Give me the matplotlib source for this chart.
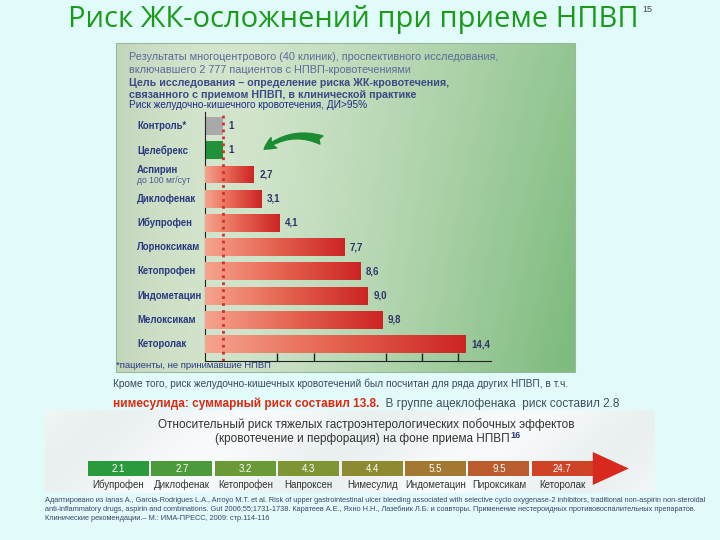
import numpy as np
import matplotlib
matplotlib.use('Agg')
import matplotlib.pyplot as plt
from matplotlib.colors import LinearSegmentedColormap, to_rgb
from matplotlib.patches import Rectangle, Polygon
import matplotlib.transforms as mtrans

plt.rcParams['font.family'] = ['Liberation Sans', 'DejaVu Sans']

# ---------------- data ----------------
drugs = ['Контроль*', 'Целебрекс', 'Аспирин', 'Диклофенак', 'Ибупрофен',
         'Лорноксикам', 'Кетопрофен', 'Индометацин', 'Мелоксикам', 'Кеторолак']
risk = [1, 1, 2.7, 3.1, 4.1, 7.7, 8.6, 9.0, 9.8, 14.4]
risk_labels = ['1', '1', '2,7', '3,1', '4,1', '7,7', '8,6', '9,0', '9,8', '14,4']
axis_ticks = [4, 6, 10, 12, 14]

strip_drugs = ['Ибупрофен', 'Диклофенак', 'Кетопрофен', 'Напроксен', 'Нимесулид',
               'Индометацин', 'Пироксикам', 'Кеторолак']
strip_values = [2.1, 2.7, 3.2, 4.3, 4.4, 5.5, 9.5, 24.7]
strip_labels = ['2.1', '2.7', '3.2', '4.3', '4.4', '5.5', '9.5', '24.7']

title = 'Риск ЖК-осложнений при приеме НПВП'
header_lines = [
    'Результаты многоцентрового (40 клиник), проспективного исследования,',
    'включавшего 2 777 пациентов с НПВП-кровотечениями',
    'Цель исследования – определение риска ЖК-кровотечения,',
    'связанного с приемом НПВП, в клинической практике',
]
chart_caption = 'Риск желудочно-кишечного кровотечения, ДИ>95%'
footnote = '*пациенты, не принимавшие НПВП'
note1 = 'Кроме того, риск желудочно-кишечных кровотечений был посчитан для ряда других НПВП, в т.ч.'
note2_red = 'нимесулида: суммарный риск составил 13.8.'
note2_rest = '  В группе ацеклофенака  риск составил 2.8'
strip_title1 = 'Относительный риск тяжелых гастроэнтерологических побочных эффектов'
strip_title2 = '(кровотечение и перфорация) на фоне приема НПВП'
refs = [
    'Адаптировано из Ianas A., Garcia-Rodrigues L.A., Arroyo M.T. et al. Risk of upper gastrointestinal ulcer bleeding associated with selective cyclo oxygenase-2 inhibitors, traditional non-aspirin non-steroidal',
    'anti-inflammatory drugs, aspirin and combinations. Gut 2006;55;1731-1738. Каратеев А.Е., Яхно Н.Н., Лазебник Л.Б. и соавторы. Применение нестероидных противовоспалительных препаратов.',
    'Клинические рекомендации.– М.: ИМА-ПРЕСС, 2009: стр.114-116',
]

# ---------------- figure ----------------
W, H = 720, 540
fig = plt.figure(figsize=(7.2, 5.4), dpi=100)
fig.patch.set_facecolor('#e0fbfa')
bg = fig.add_axes([0, 0, 1, 1])
bg.set_xlim(0, W)
bg.set_ylim(H, 0)
bg.axis('off')


def px_rect(l, t, r, b):
    return [l / W, 1 - b / H, (r - l) / W, (b - t) / H]


def px_x(disp_x):
    return disp_x * W / fig.bbox.width


# title
t_title = bg.text(353, 20, title, ha='center', va='center', fontsize=21,
                  color='#1c9a1c', family=['Open Sans', 'DejaVu Sans'])
fig.canvas.draw()
tb = t_title.get_window_extent()
bg.text(px_x(tb.x1) + 4, 10, '15', ha='left', va='center', fontsize=6.5, color='#444444')

# green panel with gradient
ny, nx = 80, 160
xx = np.linspace(0, 1, nx)[None, :]
yy = np.linspace(0, 1, ny)[:, None]
light = np.array(to_rgb('#e0ecd9'))
green = np.array(to_rgb('#80bc80'))
grey = np.array(to_rgb('#b8cfb2'))
t = np.clip(xx ** 1.4 * (0.8 + 0.25 * yy), 0, 1)
img = light[None, None, :] * (1 - t[..., None]) + green[None, None, :] * t[..., None]
s = (np.clip(1 - xx / 0.3, 0, 1) ** 1.5) * 0.75 + np.zeros_like(yy)
img = img * (1 - s[..., None]) + grey[None, None, :] * s[..., None]
bg.imshow(img, extent=[116, 575, 372, 43], aspect='auto', zorder=1, interpolation='bilinear')
bg.add_patch(Rectangle((116, 43), 459, 329, fill=False, ec='#9cb89c', lw=0.8, zorder=2))
bg.set_xlim(0, W)
bg.set_ylim(H, 0)

# header text in panel
hdr_y = [57, 70, 83, 95]
hdr_col = ['#5b6a98', '#5b6a98', '#3c4a86', '#3c4a86']
hdr_w = ['normal', 'normal', 'bold', 'bold']
hdr_fs = [7.8, 7.8, 7.7, 7.7]
for y, txt, c, w, fs in zip(hdr_y, header_lines, hdr_col, hdr_w, hdr_fs):
    bg.text(129, y, txt, ha='left', va='center', fontsize=fs, color=c, weight=w, zorder=3)
bg.text(129, 105, chart_caption, ha='left', va='center', fontsize=7.2, color='#1e2c86', zorder=3)

# footnote and notes
bg.text(116, 366, footnote, ha='left', va='center', fontsize=6.8, color='#2a3a80', zorder=3)
bg.text(113, 384, note1, ha='left', va='center', fontsize=7.3, color='#3a4660', zorder=3)
t_red = bg.text(113, 404, note2_red, ha='left', va='center', fontsize=8.5, color='#e2260f',
                weight='bold', zorder=3)
fig.canvas.draw()
bb = t_red.get_window_extent()
bg.text(px_x(bb.x1), 404, note2_rest, ha='left', va='center', fontsize=8.5, color='#444c5c', zorder=3)

# ---------------- bar chart ----------------
ax = fig.add_axes(px_rect(205, 112, 491, 361))
ax.patch.set_alpha(0)
n = len(drugs)
ypos = np.arange(n)
bh = 0.74
base_colors = ['#a9a9a9', '#22923a'] + ['#e05a4a'] * (n - 2)
bars = ax.barh(ypos, risk, height=bh, color=base_colors, zorder=2)
bar_cmap = LinearSegmentedColormap.from_list('bar', ['#f6a48e', '#e5624f', '#cc2424'])
grad = np.linspace(0, 1, 256)[None, :]
for i, (b, v) in enumerate(zip(bars, risk)):
    if i < 2:
        continue
    im = ax.imshow(grad, cmap=bar_cmap, extent=[0, v, i + bh / 2, i - bh / 2],
                   aspect='auto', zorder=3, interpolation='bilinear')
    im.set_clip_path(b)

for i, (v, lab) in enumerate(zip(risk, risk_labels)):
    ax.text(v + 0.3, i, lab, ha='left', va='center', fontsize=7, weight='bold',
            color='#2e3468', zorder=4)

ax.axvline(1, color='#d3302a', ls=(0, (1, 1.5)), lw=2, zorder=5)

ax.set_xlim(0, 15.8)
ax.set_ylim(9.7, -0.58)
ax.set_xticks(axis_ticks)
ax.set_yticks([])
ax.tick_params(axis='x', direction='in', length=6, width=1, color='#222222', labelbottom=False)
for side in ['top', 'right']:
    ax.spines[side].set_visible(False)
ax.spines['left'].set_color('#222222')
ax.spines['bottom'].set_color('#222222')

lab_tr = mtrans.blended_transform_factory(ax.transAxes, ax.transData)
lab_x = (137 - 205) / (491 - 205)
for i, d in enumerate(drugs):
    if d == 'Аспирин':
        ax.text(lab_x, i - 0.2, d, transform=lab_tr, ha='left', va='center', fontsize=6.9,
                weight='bold', color='#2a3a7e', clip_on=False)
        ax.text(lab_x, i + 0.25, 'до 100 мг/сут', transform=lab_tr, ha='left', va='center',
                fontsize=6.2, color='#4a5a8e', clip_on=False)
    else:
        ax.text(lab_x, i, d, transform=lab_tr, ha='left', va='center', fontsize=6.9,
                weight='bold', color='#2a3a7e', clip_on=False)

# green arrow pointing to Celebrex
bg.annotate('', xy=(262, 151), xytext=(324, 141),
            arrowprops=dict(arrowstyle='fancy,head_length=0.6,head_width=0.6,tail_width=0.45',
                            fc='#1c8c34', ec='#1c8c34', connectionstyle='arc3,rad=0.3',
                            mutation_scale=14), zorder=6)

# ---------------- bottom strip ----------------
sny, snx = 20, 200
sxx = np.linspace(0, 1, snx)[None, :]
syy = np.linspace(0, 1, sny)[:, None]
white = np.array(to_rgb('#f8fbfb'))
greyish = np.array(to_rgb('#e2e8e8'))
st = 0.5 + 0.5 * np.sin(sxx * 14 + syy * 2)
st = st * 0.6 + np.zeros_like(syy)
simg = white * (1 - st[..., None]) + greyish * st[..., None]
bg.imshow(simg, extent=[45, 655, 493, 410], aspect='auto', zorder=1, interpolation='bilinear')
bg.set_xlim(0, W)
bg.set_ylim(H, 0)

bg.text(366, 425, strip_title1, ha='center', va='center', fontsize=8.5, color='#333333', zorder=3)
t2 = bg.text(362, 439, strip_title2, ha='center', va='center', fontsize=8.5, color='#333333', zorder=3)
fig.canvas.draw()
bb2 = t2.get_window_extent()
bg.text(px_x(bb2.x1) + 1, 435, '16', ha='left', va='center', fontsize=6.5,
        weight='bold', color='#2a3a7e', zorder=3)

box_cols = ['#2a9a3c', '#4d9a3a', '#6a9a38', '#7f9434', '#8e8a32', '#a27832', '#bb5c2e', '#cf4426']
x0, pitch, bw = 88, 63.4, 61
by0, by1 = 461, 476
for k, (lab, d, c) in enumerate(zip(strip_labels, strip_drugs, box_cols)):
    left = x0 + k * pitch
    bg.add_patch(Rectangle((left, by0), bw, by1 - by0, fc=c, ec='none', zorder=3))
    bg.text(left + bw / 2, (by0 + by1) / 2, lab, ha='center', va='center', fontsize=7,
            color='white', zorder=4)
    bg.text(left + bw / 2, 485, d, ha='center', va='center', fontsize=7, color='#333333', zorder=4)
ax_end = x0 + 7 * pitch + bw
bg.add_patch(Polygon([[ax_end, 452], [ax_end, 485], [ax_end + 36, 468.5]], closed=True,
                     fc='#d8291f', ec='none', zorder=3))

# references
for k, r in enumerate(refs):
    bg.text(45, 500 + k * 9, r, ha='left', va='center', fontsize=5.3, color='#3a4666', zorder=3)

fig.savefig('out.png', dpi=100, facecolor=fig.get_facecolor())
